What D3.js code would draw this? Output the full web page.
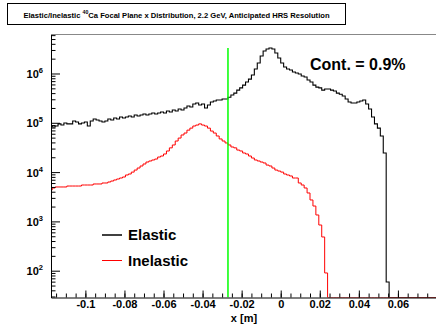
<!DOCTYPE html>
<html>
<head>
<meta charset="utf-8">
<script src="https://cdn.jsdelivr.net/npm/d3@7"></script>
<style>
  html, body { margin: 0; padding: 0; background: #fff; }
  svg { display: block; }
  text { font-family: "Liberation Sans", Arial, Helvetica, sans-serif; font-weight: bold; }
</style>
</head>
<body>
<svg id="chart" width="436" height="324"></svg>
<script>
// Histogram binning for the focal plane x coordinate (m)
const binLow = -0.1185;
const binWidth = 0.0015;

// Elastic events per bin
const elastic = [
  86000, 82000, 86000, 95000, 90000, 99000, 95000, 95000, 109000, 104000,
  95000, 99000, 104000, 86000, 109000, 119000, 114000, 109000, 104000, 109000,
  119000, 114000, 125000, 119000, 131000, 125000, 131000, 137000, 131000, 144000,
  137000, 144000, 151000, 144000, 151000, 158000, 151000, 158000, 166000, 158000,
  173000, 166000, 182000, 173000, 190000, 182000, 200000, 219000, 209000, 240000,
  252000, 230000, 240000, 200000, 230000, 264000, 277000, 290000, 290000, 304000,
  304000, 330000, 366000, 400000, 460000, 510000, 580000, 670000, 770000, 930000,
  1230000, 1630000, 2260000, 2860000, 3140000, 3290000, 3140000, 2600000, 2060000, 1630000,
  1350000, 1230000, 1180000, 1070000, 1020000, 980000, 890000, 850000, 740000, 670000,
  580000, 530000, 510000, 460000, 485000, 485000, 460000, 440000, 400000, 380000,
  350000, 304000, 264000, 252000, 252000, 264000, 277000, 290000, 240000, 190000,
  131000, 95000, 78000, 54000, 24400, 59, 0, 0, 0, 0,
  0, 0, 0, 0, 0, 0, 0, 0, 0, 0,
  0, 0, 0
];

// Inelastic events per bin
const inelastic = [
  4330, 4760, 4990, 4990, 4990, 4990, 5220, 5220, 5220, 5220,
  5220, 5470, 5470, 5470, 5470, 5740, 5740, 5740, 6010, 6010,
  6300, 6590, 6920, 7240, 7590, 7950, 8730, 9150, 10000, 11000,
  12100, 13300, 14600, 16000, 16800, 17600, 18400, 20200, 21200, 23300,
  26800, 31000, 35500, 42700, 49000, 56600, 62000, 71000, 78000, 86000,
  90000, 95000, 90000, 86000, 78000, 68000, 62000, 54000, 47000, 42700,
  39000, 35500, 32300, 31000, 28000, 26800, 24400, 23300, 21200, 19300,
  17600, 16800, 16000, 15300, 13900, 13300, 12100, 11000, 10500, 10000,
  9150, 8730, 8340, 7590, 7590, 6010, 5470, 4760, 3770, 2720,
  2050, 1350, 845, 483, 90, 0, 0, 0, 0, 0,
  0, 0, 0, 0, 0, 0, 0, 0, 0, 0,
  0, 0, 0, 0, 0, 0, 0, 0, 0, 0,
  0, 0, 0, 0, 0, 0, 0, 0, 0, 0,
  0, 0, 0
];

// Axis ranges and ticks
const xRange = [-0.1176, 0.0795];
const yRange = [28.6, 6.18e6];
const xTickValues = [-0.1, -0.08, -0.06, -0.04, -0.02, 0, 0.02, 0.04, 0.06];
const xTickLabels = ["-0.1", "-0.08", "-0.06", "-0.04", "-0.02", "0", "0.02", "0.04", "0.06"];
const xMinorStep = 0.005;
const yDecades = [1e2, 1e3, 1e4, 1e5, 1e6];
const yExponents = ["2", "3", "4", "5", "6"];

// Cut position and annotation
const cutX = -0.027;
const titleMain = "Elastic/Inelastic  ";
const titleSup = "40";
const titleRest = "Ca Focal Plane x Distribution, 2.2 GeV, Anticipated HRS Resolution";
const contaminationText = "Cont. = 0.9%";
const xAxisTitle = "x [m]";
const legendItems = [
  { label: "Elastic", color: "#000000" },
  { label: "Inelastic", color: "#ff0000" }
];

const frame = { left: 51, right: 436, top: 34.5, bottom: 297.5 };

const svg = d3.select("#chart");

const x = d3.scaleLinear().domain(xRange).range([frame.left, frame.right]);
const y = d3.scaleLog().domain(yRange).range([frame.bottom, frame.top]);

// Title box
const titleG = svg.append("g");
titleG.append("rect")
  .attr("x", 7.5).attr("y", 3.5).attr("width", 338).attr("height", 21)
  .attr("fill", "#fff").attr("stroke", "#000").attr("stroke-width", 1);
const titleText = titleG.append("text")
  .attr("x", 176.5).attr("y", 17.5)
  .attr("text-anchor", "middle")
  .attr("font-size", 7.6);
titleText.append("tspan").text(titleMain);
titleText.append("tspan").attr("font-size", 5.2).attr("dy", -3.5).text(titleSup);
titleText.append("tspan").attr("dy", 3.5).text(titleRest);

// Clip region for the histograms
svg.append("clipPath").attr("id", "plotClip")
  .append("rect")
  .attr("x", frame.left).attr("y", frame.top - 2)
  .attr("width", frame.right - frame.left).attr("height", frame.bottom - frame.top + 2);

// Step outline of a histogram; empty bins sit on the bottom of the frame
function stepPoints(vals) {
  const pts = [];
  vals.forEach((v, i) => {
    const x0 = x(binLow + i * binWidth);
    const x1 = x(binLow + (i + 1) * binWidth);
    const yy = v > 0 ? Math.min(y(v), frame.bottom) : frame.bottom;
    pts.push([x0, yy], [x1, yy]);
  });
  return pts;
}
const line = d3.line();

const plot = svg.append("g").attr("clip-path", "url(#plotClip)");
plot.append("path")
  .attr("d", line(stepPoints(elastic)))
  .attr("fill", "none").attr("stroke", "#000").attr("stroke-width", 1.1);
plot.append("path")
  .attr("d", line(stepPoints(inelastic)))
  .attr("fill", "none").attr("stroke", "#ff0000").attr("stroke-width", 1);

// Cut line, drawn up to the elastic maximum
plot.append("line")
  .attr("x1", x(cutX)).attr("x2", x(cutX))
  .attr("y1", y(d3.max(elastic))).attr("y2", frame.bottom)
  .attr("stroke", "#00ff00").attr("stroke-width", 1.5);

// Frame top edge
svg.append("line")
  .attr("x1", frame.left).attr("x2", frame.right)
  .attr("y1", frame.top).attr("y2", frame.top)
  .attr("stroke", "#888").attr("stroke-width", 1);

// X axis: major ticks with labels, minor ticks every 5 mm
const xMinor = d3.range(Math.ceil(xRange[0] / xMinorStep), Math.floor(xRange[1] / xMinorStep) + 1)
  .map(k => k * xMinorStep);
svg.append("g")
  .attr("transform", `translate(0,${frame.bottom})`)
  .call(d3.axisBottom(x).tickValues(xMinor).tickSize(-4).tickFormat("").tickSizeOuter(0))
  .call(g => g.select(".domain").remove())
  .call(g => g.selectAll("line").attr("stroke", "#000"));
const xAxisG = svg.append("g")
  .attr("transform", `translate(0,${frame.bottom})`)
  .call(d3.axisBottom(x).tickValues(xTickValues).tickSize(-7).tickSizeOuter(0)
    .tickPadding(3)
    .tickFormat((d, i) => xTickLabels[i]));
xAxisG.select(".domain").attr("stroke", "#000");
xAxisG.selectAll("text").attr("font-size", 11).attr("fill", "#000")
  .attr("font-family", "'Liberation Sans', Arial, sans-serif").attr("font-weight", "bold");

svg.append("text")
  .attr("x", 244).attr("y", 321.5)
  .attr("text-anchor", "middle").attr("font-size", 11)
  .text(xAxisTitle);

// Y axis: log decades with minor ticks at 2..9
const yMinor = [];
for (let e = 1; e <= 6; e++) {
  for (let m = 2; m <= 9; m++) {
    const v = m * Math.pow(10, e);
    if (v >= yRange[0] && v <= yRange[1]) yMinor.push(v);
  }
}
svg.append("g")
  .attr("transform", `translate(${frame.left},0)`)
  .call(d3.axisLeft(y).tickValues(yMinor).tickSize(-4.5).tickFormat("").tickSizeOuter(0))
  .call(g => g.select(".domain").remove())
  .call(g => g.selectAll("line").attr("stroke", "#000"));
const yAxisG = svg.append("g")
  .attr("transform", `translate(${frame.left},0)`)
  .call(d3.axisLeft(y).tickValues(yDecades).tickSize(-9).tickSizeOuter(0).tickFormat(""));
yAxisG.select(".domain").attr("stroke", "#000");
yAxisG.selectAll(".tick").each(function (d, i) {
  const t = d3.select(this).append("text")
    .attr("x", -8).attr("y", 4)
    .attr("text-anchor", "end")
    .attr("fill", "#000")
    .attr("font-size", 11)
    .attr("font-family", "'Liberation Sans', Arial, sans-serif")
    .attr("font-weight", "bold");
  t.append("tspan").text("10");
  t.append("tspan").attr("font-size", 7.5).attr("dy", -5).text(yExponents[i]);
});

// Contamination label
svg.append("text")
  .attr("x", 310).attr("y", 70)
  .attr("font-size", 16)
  .text(contaminationText);

// Legend
const legend = svg.append("g");
legendItems.forEach((item, i) => {
  const ly = 235 + i * 25.5;
  legend.append("line")
    .attr("x1", 102).attr("x2", 122).attr("y1", ly).attr("y2", ly)
    .attr("stroke", item.color).attr("stroke-width", i === 0 ? 1.5 : 1);
  legend.append("text")
    .attr("x", 128).attr("y", ly + 5.3)
    .attr("font-size", 15)
    .text(item.label);
});
</script>
</body>
</html>
